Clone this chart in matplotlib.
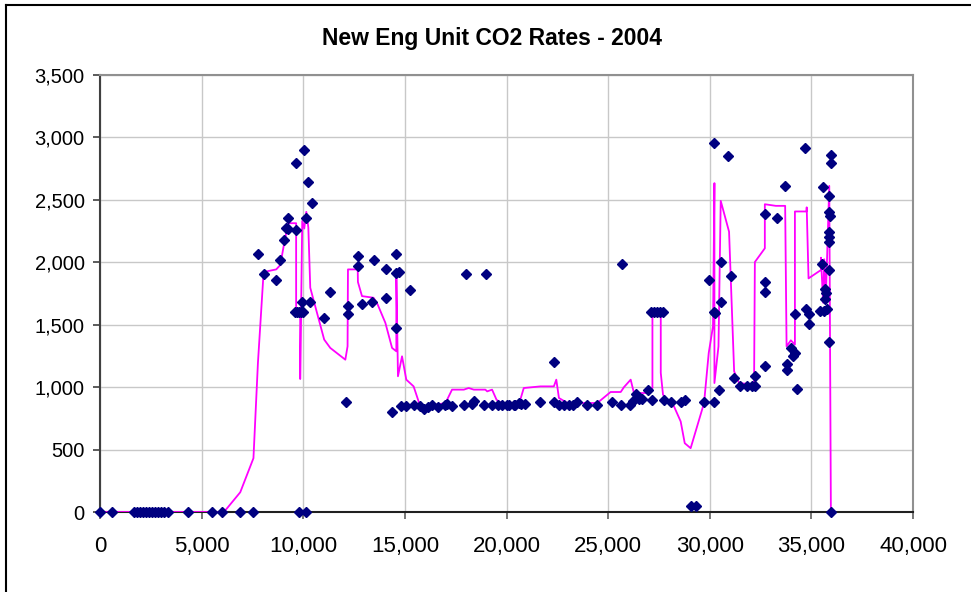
import matplotlib.pyplot as plt
from matplotlib.lines import Line2D
from matplotlib.ticker import FuncFormatter, MultipleLocator

## unit co2 rates (scatter series)
unit_x = [0, 575, 1650, 1800, 1950, 2100, 2250, 2400, 2550, 2700, 2850, 3000, 3150, 3350,
          4320, 5520, 6010, 6900, 7550, 9800, 10150,
          7770, 8060, 8670, 8870, 9060, 9160, 9260, 9260, 9650, 9640, 10050, 10250, 10440, 10150,
          9950, 10350, 9600, 9700, 9800, 9900, 10000, 11030, 11300,
          12100, 12200, 12200, 12690, 12690, 12890, 13380, 13460, 14070, 14070, 14370, 14580,
          14580, 14700, 14580, 15240, 18000, 19000,
          14830, 15070, 15470, 15760, 15960, 16130, 16340, 16640, 16950, 17080, 17320, 17900,
          18310, 18420, 18880, 19290, 19590, 19790, 20030, 20120, 20360, 20440, 20610, 20690,
          20890, 21670, 22360, 22360, 22580, 22820, 23070, 23280, 23480, 23940, 24430, 25170,
          25620, 25700, 26070, 26240, 26350, 26520, 26680, 26980, 27180, 27100, 27250, 27400,
          27550, 27700, 27750, 28080, 28570, 28770, 29060, 29310,
          29720, 29950, 30210, 30210, 30210, 30250, 30460, 30540, 30540, 30920, 31030, 31200,
          31490, 31810, 32100, 32220, 32220, 32710, 32710, 32710, 32710, 33290, 33690, 33780,
          33780, 33990, 34100, 34190, 34190, 34290, 34680, 34760, 34860, 34860, 35430, 35520,
          35550, 35600, 35680, 35730, 35680, 35760, 35850, 35850, 35930, 35850, 35850, 35850,
          35850, 35850, 35960, 35960, 35960]
unit_y = [0, 0, 0, 0, 0, 0, 0, 0, 0, 0, 0, 0, 0, 0,
          0, 0, 0, 0, 0, 0, 0,
          2066, 1906, 1860, 2018, 2181, 2275, 2355, 2264, 2262, 2792, 2899, 2644, 2471, 2355,
          1684, 1684, 1604, 1604, 1604, 1604, 1604, 1555, 1761,
          880, 1587, 1649, 2050, 1973, 1668, 1684, 2021, 1943, 1716, 798, 2066,
          1914, 1925, 1472, 1780, 1906, 1906,
          846, 846, 859, 846, 825, 839, 859, 839, 859, 866, 846, 859,
          866, 886, 859, 859, 859, 859, 859, 859, 859, 859, 873, 866,
          866, 880, 880, 1202, 859, 859, 859, 859, 880, 859, 859, 880,
          859, 1983, 859, 886, 948, 905, 905, 980, 894, 1604, 1604, 1604,
          1604, 1604, 894, 880, 880, 899, 45, 45,
          880, 1860, 880, 2952, 1604, 1596, 974, 2002, 1684, 2853, 1890, 1074,
          1006, 1006, 1006, 1087, 1006, 2385, 1845, 1761, 1167, 2353, 2612, 1186,
          1135, 1314, 1247, 1274, 1587, 988, 2917, 1622, 1582, 1502, 1608, 1983,
          2600, 1608, 1788, 1751, 1703, 1622, 2532, 2404, 2372, 2245, 2203, 2163,
          1938, 1360, 2861, 2792, 0]

## second series, drawn as a line
line_x = [0, 6100, 6900, 7550, 7770, 8050, 8670, 8870, 9060, 9260, 9650, 9650, 9850, 9850,
          9950, 10050, 10150, 10250, 10345, 11030, 11330, 12070, 12180, 12200, 12680, 12690,
          12890, 13460, 13660, 14040, 14370, 14580, 14580, 14660, 14860, 15070, 15430, 15730,
          16090, 17000, 17320, 17900, 18140, 18390, 18960, 19050, 19290, 19510, 19800, 20600,
          20690, 20850, 21670, 22330, 22450, 22580, 23000, 24470, 25120, 25620, 25780, 26110,
          26270, 26930, 27180, 27180, 27590, 27590, 27700, 27910, 28240, 28570, 28770, 29060,
          29720, 29950, 30160, 30230, 30230, 30430, 30540, 30950, 31200, 31440, 32180, 32220,
          32710, 32710, 33250, 33710, 33780, 33990, 34190, 34190, 34760, 34770, 34860, 35470,
          35470, 35580, 35630, 35710, 35880, 35960]
line_y = [0, 0, 158, 431, 1194, 1922, 1943, 1978, 2150, 2313, 2313, 1600, 1600, 1065,
          2331, 2270, 2404, 2278, 1796, 1381, 1314, 1220, 1327, 1943, 1943, 1842,
          1729, 1716, 1662, 1515, 1314, 1287, 1916, 1087, 1247, 1060, 1006, 859,
          846, 873, 980, 980, 993, 980, 980, 966, 980, 899, 866, 880,
          905, 993, 1006, 1006, 1060, 913, 873, 873, 961, 961, 1000, 1060,
          953, 953, 993, 1596, 1596, 1114, 940, 899, 846, 725, 551, 511,
          873, 1274, 1488, 2634, 1033, 1327, 2492, 2245, 1127, 1033, 1020, 2002,
          2112, 2465, 2452, 2452, 1327, 1375, 1341, 2407, 2407, 2440, 1871, 1938,
          2037, 1676, 2024, 1703, 2612, 0]

title = "New Eng Unit CO2 Rates - 2004"

plt.rcParams['font.family'] = ['Liberation Sans', 'DejaVu Sans']

fig = plt.figure(figsize=(9.71, 5.92), dpi=100)
ax = fig.add_axes([100 / 971, 80 / 592, 813 / 971, 437 / 592])

ax.plot(line_x, line_y, color='#FF00FF', lw=1.3, zorder=3)
ax.plot(unit_x, unit_y, ls='none', marker='D', ms=4.8, color='#000080', zorder=4, clip_on=False)

ax.set_xlim(0, 40000)
ax.set_ylim(0, 3500)
ax.xaxis.set_major_locator(MultipleLocator(5000))
ax.yaxis.set_major_locator(MultipleLocator(500))
fmt = FuncFormatter(lambda v, p: format(int(v), ','))
ax.xaxis.set_major_formatter(fmt)
ax.yaxis.set_major_formatter(fmt)

ax.grid(True, color='#C8C8C8', lw=1.0)
ax.set_axisbelow(True)
ax.spines['left'].set_color('#404040')
ax.spines['left'].set_linewidth(1.5)
ax.spines['bottom'].set_color('#202020')
ax.spines['bottom'].set_linewidth(1.5)
ax.spines['top'].set_color('#909090')
ax.spines['right'].set_color('#909090')
ax.spines['top'].set_linewidth(1.5)
ax.spines['right'].set_linewidth(1.5)

ax.tick_params(axis='y', labelsize=14.5, length=5, width=1.2, color='#404040', pad=6)
ax.tick_params(axis='x', labelsize=16, length=5, width=1.2, color='#606060', pad=12)

fig.text(492 / 971, 1 - 38 / 592, title, ha='center', va='center', fontsize=16.5, fontweight='bold')

## outer chart frame (only top and left edges fall inside the picture)
fig.add_artist(Line2D([6 / 971, 1], [1 - 5 / 592, 1 - 5 / 592], color='black', lw=1.5))
fig.add_artist(Line2D([6 / 971, 6 / 971], [0, 1 - 5 / 592], color='black', lw=1.5))

fig.savefig('out.png', dpi=100)
